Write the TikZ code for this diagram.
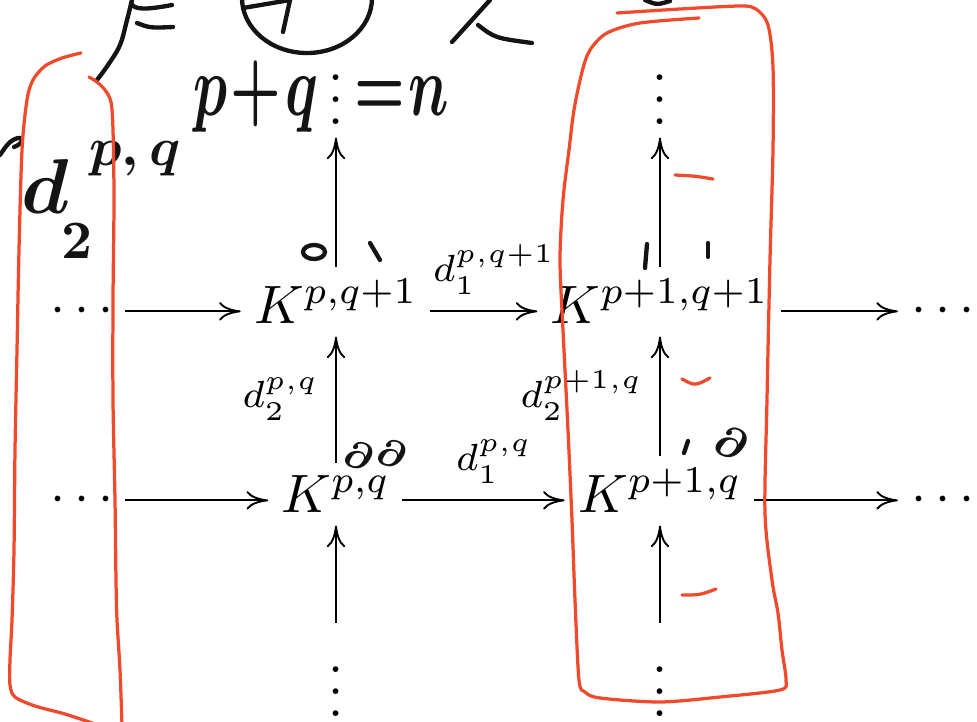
\documentclass[tikz,border=0pt]{standalone}
\usepackage{tikz}
\usepackage{graphicx}
\usetikzlibrary{arrows.meta}
\usepackage{xcolor}
\definecolor{ink}{HTML}{141414}
\definecolor{marker}{HTML}{EF4A2B}
\tikzset{
  cell/.style={anchor=base,inner sep=0pt,outer sep=0pt},
  map/.style={-{To[length=4pt,width=3.4pt]},line width=0.35pt,shorten <=2.2pt,shorten >=2.5pt},
  lab/.style={inner sep=3pt},
  hand/.style={inner sep=0pt,text=ink},
  scrawl/.style={draw=ink,line width=0.8pt,line cap=round,line join=round},
  pen/.style={draw=marker,line width=0.6pt,line cap=round,line join=round}
}

\begin{document}
\begin{tikzpicture}[x=0.185pt,y=-0.185pt]
\useasboundingbox (0,0) rectangle (977,722);
\clip (0,0) rectangle (977,722);

% double complex
\node[cell] (t1) at (336,124) {$\vdots$};
\node[cell] (t2) at (660,124) {$\vdots$};
\node[cell] (a0) at (82,323) {$\cdots$};
\node[cell] (a1) at (336,323) {$K^{p,q+1}$};
\node[cell] (a2) at (660,323) {$K^{p+1,q+1}$};
\node[cell] (a3) at (943,323) {$\cdots$};
\node[cell] (b0) at (82,512) {$\cdots$};
\node[cell] (b1) at (336,512) {$K^{p,q}$};
\node[cell] (b2) at (660,512) {$K^{p+1,q}$};
\node[cell] (b3) at (943,512) {$\cdots$};
\node[cell] (u1) at (336,716) {$\vdots$};
\node[cell] (u2) at (660,716) {$\vdots$};

\draw[map] (a0.mid east) -- (a1.mid west);
\draw[map] (a1.mid east) -- node[lab,above,xshift=1.8pt] {$\scriptstyle d_1^{p,q+1}$} (a2.mid west);
\draw[map] (a2.mid east) -- (a3.mid west);
\draw[map] (b0.mid east) -- (b1.mid west);
\draw[map] (b1.mid east) -- node[lab,above,xshift=1.8pt] {$\scriptstyle d_1^{p,q}$} (b2.mid west);
\draw[map] (b2.mid east) -- (b3.mid west);

\draw[map] (a1.north) -- (t1.south);
\draw[map] (a2.north) -- (t2.south);
\draw[map] (b1.north) -- node[lab,left] {$\scriptstyle d_2^{p,q}$} (a1.south);
\draw[map] (b2.north) -- node[lab,left] {$\scriptstyle d_2^{p+1,q}$} (a2.south);
\draw[map] (u1.north) -- (b1.south);
\draw[map] (u2.north) -- (b2.south);

% handwriting
\node[hand,anchor=base west] (pqn) at (192,115) {\scalebox{1.05}[1.6]{\mathversion{bold}$p\mkern1mu{+}\mkern1mu q\mkern10mu{=}\mkern1mu n$}};
\node[hand,anchor=base west] (dtwo) at (20,213) {\mbox{\Large\mathversion{bold}$d^{\mkern6mu\raise3.5pt\hbox{$\scriptstyle p,\mkern3mu q$}}_{\mkern-2mu\lower4pt\hbox{$\scriptstyle 2$}}$}};
\node[hand,rotate=-15] (del1) at (359,456) {\mbox{\scriptsize\mathversion{bold}$\partial$}};
\node[hand,rotate=-15] (del2) at (392,454) {\mbox{\scriptsize\mathversion{bold}$\partial$}};
\node[hand,rotate=-20] (del3) at (731,443) {\mbox{\footnotesize\mathversion{bold}$\partial$}};

\draw[scrawl] plot[smooth,tension=0.6] coordinates {(132,0) (127,20) (120,45) (108,65) (97,80)};
\draw[scrawl] (131,3) .. controls (134,10) and (145,10) .. (172,5);
\draw[scrawl] (137,23) .. controls (150,28) .. (173,27);
\draw[scrawl] (307,-2) ellipse [x radius=65,y radius=55];
\draw[scrawl] (243,8) -- (290,0);
\draw[scrawl] (290,0) -- (283,32);
\draw[scrawl] (490,0) -- (452,42);
\draw[scrawl] (478,25) .. controls (495,38) .. (532,43);
\draw[scrawl] (645,0) .. controls (657,5) .. (670,1);
\draw[scrawl] (0,155) .. controls (6,146) and (10,140) .. (18,138) .. controls (24,137) and (23,144) .. (14,147);
\draw[scrawl] (314,252) ellipse [x radius=11,y radius=7];
\draw[scrawl] (370,243) -- (380,260);
\draw[scrawl] (647,244) -- (645,268);
\draw[scrawl] (708,243) -- (708,257);
\draw[scrawl] (688,441) -- (684,453);

% red marks
\draw[pen] plot[smooth,tension=0.5] coordinates {(81,53) (62,58) (45,66) (33,80) (27,100) (22,150) (19,250) (17,350) (15,450) (14,550) (12,620) (10,660) (10,685) (15,697) (35,706) (65,714) (95,724)};
\draw[pen] plot[smooth,tension=0.5] coordinates {(89,77) (97,82) (105,90) (111,102) (113,130) (114,200) (113,300) (113,400) (115,500) (116,580) (117,620) (120,670) (122,725)};
\draw[pen] plot[smooth,tension=0.5] coordinates {(617,13) (680,9) (740,6) (756,9) (768,25) (773,67) (773,150) (770,260) (767,400) (765,513) (772,580) (778,613) (782,650) (786,680) (780,690) (720,697) (660,702) (600,698) (585,692) (579,680) (575,600) (572,520) (568,430) (563,330) (560,260) (563,200) (569,150) (574,110) (582,72) (590,50) (607,33) (640,23) (699,18)};
\draw[pen] (675,175) .. controls (695,176) .. (713,179);
\draw[pen] (682,379) .. controls (695,386) .. (710,378);
\draw[pen] (682,595) .. controls (700,595) .. (716,589);
\end{tikzpicture}
\end{document}
